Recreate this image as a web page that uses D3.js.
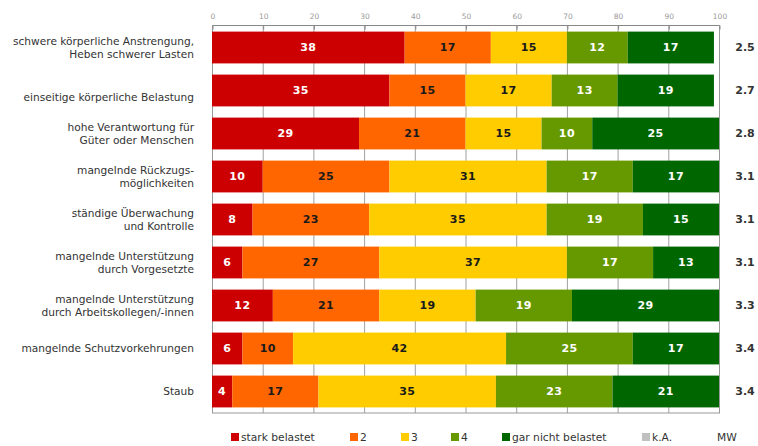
<!DOCTYPE html>
<html>
<head>
<meta charset="utf-8">
<script src="https://cdn.jsdelivr.net/npm/d3@7"></script>
<style>
  html, body { margin: 0; padding: 0; background: #fff; }
  svg { display: block; font-family: "DejaVu Sans", Verdana, sans-serif; }
</style>
</head>
<body>
<svg id="chart" width="758" height="446"></svg>
<script>
// Category labels (each entry is a list of lines)
const categories = [
  ["schwere körperliche Anstrengung,", "Heben schwerer Lasten"],
  ["", "einseitige körperliche Belastung"],
  ["hohe Verantwortung für", "Güter oder Menschen"],
  ["mangelnde Rückzugs-", "möglichkeiten"],
  ["ständige Überwachung", "und Kontrolle"],
  ["mangelnde Unterstützung", "durch Vorgesetzte"],
  ["mangelnde Unterstützung", "durch Arbeitskollegen/-innen"],
  ["mangelnde Schutzvorkehrungen"],
  ["Staub"]
];

// Shares in percent per answer level
const starkBelastet = [38, 35, 29, 10, 8, 6, 12, 6, 4];
const stufe2        = [17, 15, 21, 25, 23, 27, 21, 10, 17];
const stufe3        = [15, 17, 15, 31, 35, 37, 19, 42, 35];
const stufe4        = [12, 13, 10, 17, 19, 17, 19, 25, 23];
const garNicht      = [17, 19, 25, 17, 15, 13, 29, 17, 21];
const keineAngabe   = [0, 0, 0, 0, 0, 0, 0, 0, 0];

// Mean values (MW)
const mittelwerte = ["2.5", "2.7", "2.8", "3.1", "3.1", "3.1", "3.3", "3.4", "3.4"];

const tickValues = [0, 10, 20, 30, 40, 50, 60, 70, 80, 90, 100];
const seriesNames = ["stark belastet", "2", "3", "4", "gar nicht belastet", "k.A."];
const seriesColors = ["#cc0000", "#ff6600", "#ffcc00", "#669900", "#006600", "#c0c0c0"];
const labelColors  = ["#ffffff", "#1a1a1a", "#1a1a1a", "#ffffff", "#ffffff", "#1a1a1a"];

const seriesData = [starkBelastet, stufe2, stufe3, stufe4, garNicht, keineAngabe];

const svg = d3.select("#chart");

const x = d3.scaleLinear().domain([0, 100]).range([212, 719]);
const y = d3.scaleBand()
  .domain(d3.range(categories.length))
  .range([26, 413])
  .paddingInner(0.26)
  .paddingOuter(0.13);

// Grid lines
svg.append("g")
  .selectAll("line")
  .data(tickValues)
  .join("line")
  .attr("x1", d => x(d) + 0.5)
  .attr("x2", d => x(d) + 0.5)
  .attr("y1", 25)
  .attr("y2", 413)
  .attr("stroke", "#a0a0a0")
  .attr("stroke-width", 1);

// Frame
svg.append("rect")
  .attr("x", x(0) + 0.5)
  .attr("y", 25.5)
  .attr("width", x(100) - x(0))
  .attr("height", 413 - 25.5)
  .attr("fill", "none")
  .attr("stroke", "#999");

// Top axis
const axis = svg.append("g")
  .attr("transform", "translate(0.5,25.5)")
  .call(d3.axisTop(x).tickValues(tickValues).tickSize(-4).tickPadding(7));
axis.select(".domain").attr("stroke", "#888").attr("d", `M${x(0)},0H${x(100)}`);
axis.selectAll(".tick line").attr("stroke", "#888");
axis.selectAll(".tick text")
  .attr("fill", "#9a9a9a")
  .style("font-size", "7.5px")
  .style("font-family", "'DejaVu Sans', sans-serif");

// Stacked segments
const stackRows = categories.map((c, i) => {
  let acc = 0;
  return seriesData.map((s, k) => {
    const seg = { row: i, k, v: s[i], x0: acc, x1: acc + s[i] };
    acc += s[i];
    return seg;
  });
});
const segments = stackRows.flat().filter(d => d.v > 0);

svg.append("g")
  .selectAll("rect")
  .data(segments)
  .join("rect")
  .attr("x", d => x(d.x0))
  .attr("y", d => y(d.row))
  .attr("width", d => x(d.x1) - x(d.x0))
  .attr("height", y.bandwidth())
  .attr("fill", d => seriesColors[d.k]);

svg.append("g")
  .selectAll("text")
  .data(segments)
  .join("text")
  .attr("x", d => (x(d.x0) + x(d.x1)) / 2)
  .attr("y", d => y(d.row) + y.bandwidth() / 2)
  .attr("dy", "0.36em")
  .attr("text-anchor", "middle")
  .attr("fill", d => labelColors[d.k])
  .style("font-size", "11px")
  .style("font-weight", "bold")
  .style("letter-spacing", "0.4px")
  .text(d => d.v);

// Category labels
const catG = svg.append("g");
categories.forEach((lines, i) => {
  const cy = y(i) + y.bandwidth() / 2;
  const lh = 13;
  const t = catG.append("text")
    .attr("text-anchor", "end")
    .attr("fill", "#333")
    .style("font-size", "10.6px");
  lines.forEach((ln, j) => {
    t.append("tspan")
      .attr("x", 194)
      .attr("y", cy + (j - (lines.length - 1) / 2) * lh)
      .attr("dy", "0.36em")
      .text(ln);
  });
});

// Mean values
svg.append("g")
  .selectAll("text")
  .data(mittelwerte)
  .join("text")
  .attr("x", 745)
  .attr("y", (d, i) => y(i) + y.bandwidth() / 2)
  .attr("dy", "0.36em")
  .attr("text-anchor", "middle")
  .attr("fill", "#333")
  .style("font-size", "11px")
  .style("font-weight", "bold")
  .text(d => d);

// Legend
const legendX = [231, 350, 401, 451, 502, 642];
const legend = svg.append("g");
seriesNames.forEach((name, k) => {
  legend.append("rect")
    .attr("x", legendX[k])
    .attr("y", 433)
    .attr("width", 8)
    .attr("height", 8)
    .attr("fill", seriesColors[k]);
  legend.append("text")
    .attr("x", legendX[k] + 10)
    .attr("y", 437)
    .attr("dy", "0.36em")
    .attr("fill", "#333")
    .style("font-size", "10.7px")
    .text(name);
});
legend.append("text")
  .attr("x", 717)
  .attr("y", 437)
  .attr("dy", "0.36em")
  .attr("fill", "#333")
  .style("font-size", "10.7px")
  .text("MW");
</script>
</body>
</html>
